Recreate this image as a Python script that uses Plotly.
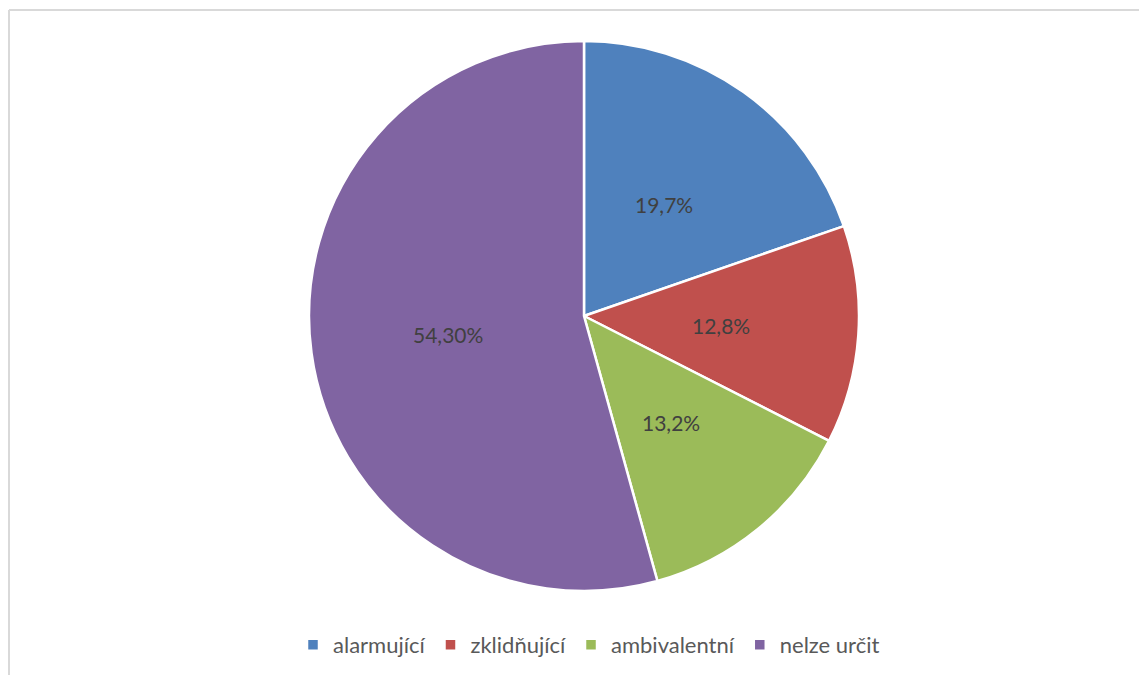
import math
import plotly.graph_objects as go

categories = ["alarmující", "zklidňující", "ambivalentní", "nelze určit"]
values = [19.7, 12.8, 13.2, 54.3]
text_labels = ["19,7%", "12,8%", "13,2%", "54,30%"]
colors = ["#4F81BD", "#C0504D", "#9BBB59", "#8064A2"]

W, H = 1147, 675
OFF = 8  # page body margin offset
cx, cy, R = 584 - OFF, 316 - OFF, 275

fig = go.Figure(go.Pie(
    labels=categories,
    values=values,
    textinfo="none",
    sort=False,
    direction="clockwise",
    rotation=0,
    marker=dict(colors=colors, line=dict(color="white", width=2.5)),
    domain=dict(x=[(cx - R) / W, (cx + R) / W], y=[1 - (cy + R) / H, 1 - (cy - R) / H]),
    showlegend=True,
    hoverinfo="label+percent",
))

# data labels at half radius, at each slice's mid-angle
total = sum(values)
cum = 0.0
annotations = []
for v, t in zip(values, text_labels):
    mid = (cum + v / 2) / total * 2 * math.pi
    cum += v
    px = cx + 0.5 * R * math.sin(mid)
    py = cy - 0.5 * R * math.cos(mid)
    annotations.append(dict(
        x=px / W, y=1 - py / H, xref="paper", yref="paper",
        text=t, showarrow=False, xanchor="center", yanchor="middle",
        font=dict(family="Lato, Open Sans, sans-serif", size=21, color="#404040"),
    ))

fig.update_layout(
    width=W, height=H,
    margin=dict(l=0, r=0, t=0, b=0),
    paper_bgcolor="white",
    plot_bgcolor="white",
    annotations=annotations,
    legend=dict(
        orientation="h",
        x=(589 - OFF) / W, xanchor="center",
        y=1 - (645 - OFF) / H, yanchor="middle",
        font=dict(family="Lato, Open Sans, sans-serif", size=22, color="#595959"),
        itemwidth=30,
    ),
    shapes=[
        dict(type="line", xref="paper", yref="paper",
             x0=1 / W, x1=1.02, y0=1 - 2 / H, y1=1 - 2 / H,
             line=dict(color="#D9D9D9", width=2)),
        dict(type="line", xref="paper", yref="paper",
             x0=1 / W, x1=1 / W, y0=1 - 2 / H, y1=-0.02,
             line=dict(color="#D9D9D9", width=2)),
    ],
)

fig.write_html("out.html")
